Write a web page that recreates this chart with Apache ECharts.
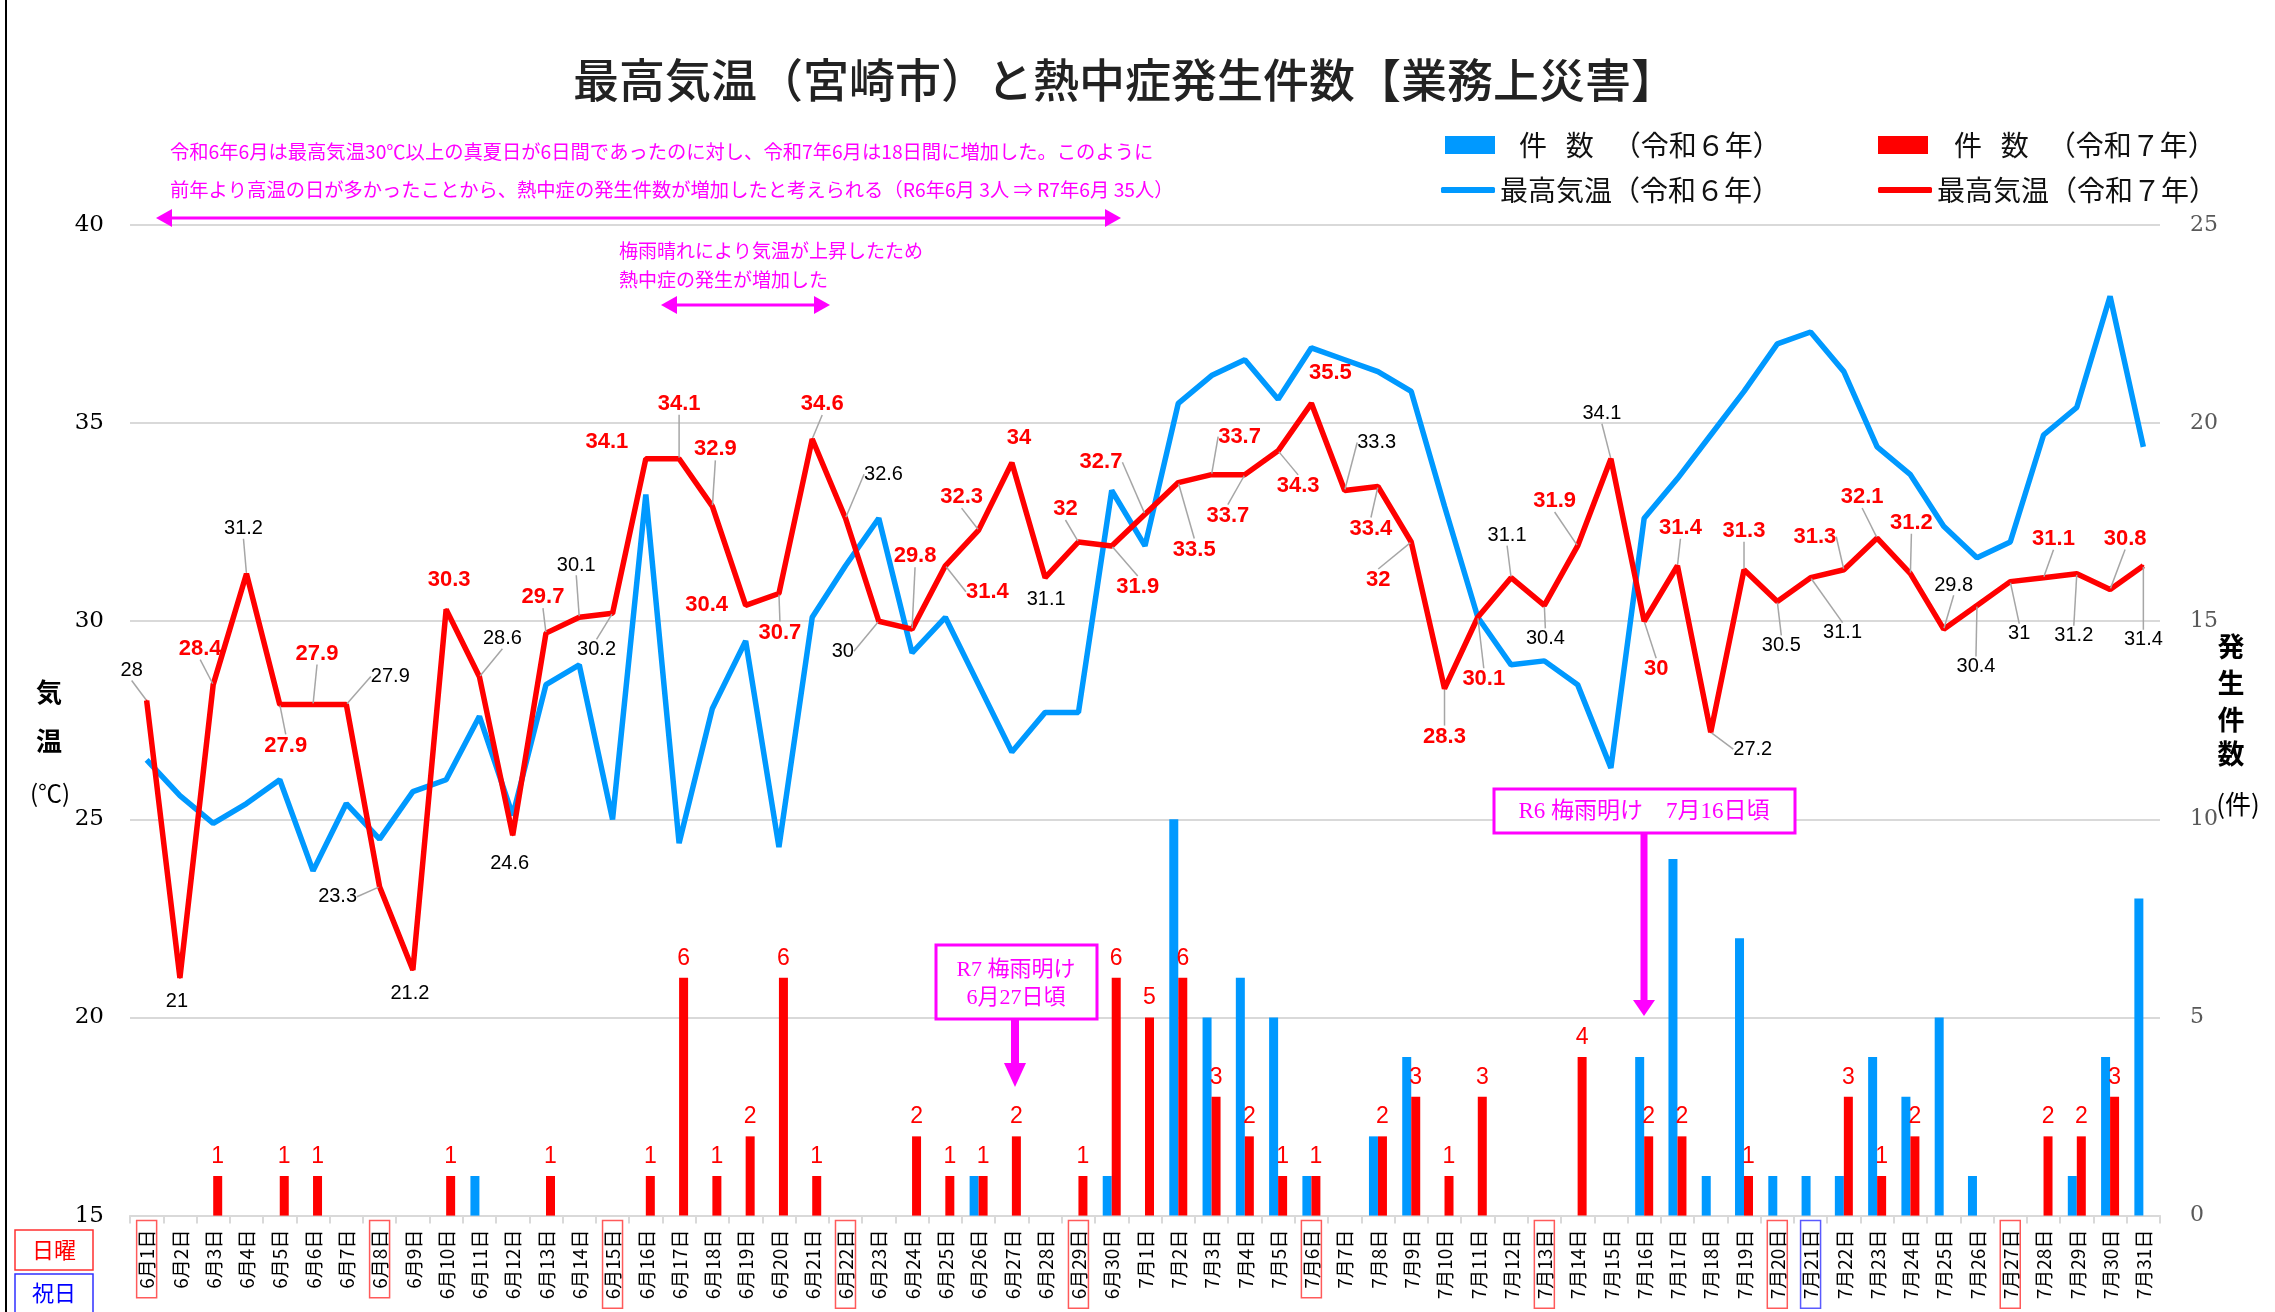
<!DOCTYPE html>
<html><head><meta charset="utf-8">
<script src="https://cdn.jsdelivr.net/npm/echarts@6/dist/echarts.min.js"></script>
<style>html,body{margin:0;padding:0;background:#fff}#c{width:2275px;height:1312px}</style>
</head><body><div id="c"></div>
<script>
const categories = ['6月1日','6月2日','6月3日','6月4日','6月5日','6月6日','6月7日','6月8日','6月9日','6月10日',
 '6月11日','6月12日','6月13日','6月14日','6月15日','6月16日','6月17日','6月18日','6月19日','6月20日',
 '6月21日','6月22日','6月23日','6月24日','6月25日','6月26日','6月27日','6月28日','6月29日','6月30日',
 '7月1日','7月2日','7月3日','7月4日','7月5日','7月6日','7月7日','7月8日','7月9日','7月10日',
 '7月11日','7月12日','7月13日','7月14日','7月15日','7月16日','7月17日','7月18日','7月19日','7月20日',
 '7月21日','7月22日','7月23日','7月24日','7月25日','7月26日','7月27日','7月28日','7月29日','7月30日','7月31日'];
const sundays = ['6月1日','6月8日','6月15日','6月22日','6月29日','7月6日','7月13日','7月20日','7月27日'];
const holidays = ['7月21日'];

// 件数（令和6年）
const r6Count = [0,0,0,0,0,0,0,0,0,0, 1,0,0,0,0,0,0,0,0,0, 0,0,0,0,0,1,0,0,0,1,
                 0,10,5,6,5,1,0,2,4,0, 0,0,0,0,0,4,9,1,7,1, 1,1,4,3,5,1,0,0,1,4, 8];
// 件数（令和7年）
const r7Count = [0,0,1,0,1,1,0,0,0,1, 0,0,1,0,0,1,6,1,2,6, 1,0,0,2,1,1,2,0,1,6,
                 5,6,3,2,1,1,0,2,3,1, 3,0,0,4,0,2,2,0,1,0, 0,3,1,2,0,0,0,2,2,3, 0];
// 最高気温（令和6年）
const r6Temp = [26.5,25.6,24.9,25.4,26.0,23.7,25.4,24.5,25.7,26.0, 27.6,25.1,28.4,28.9,25.0,33.2,24.4,27.8,29.5,24.3,
                30.1,31.4,32.6,29.2,30.1,28.4,26.7,27.7,27.7,33.3, 31.9,35.5,36.2,36.6,35.6,36.9,36.6,36.3,35.8,32.9,
                30.1,28.9,29.0,28.4,26.3,32.6,33.6,34.7,35.8,37.0, 37.3,36.3,34.4,33.7,32.4,31.6,32.0,34.7,35.4,38.2, 34.4];
// 最高気温（令和7年）
const r7Temp = [28,21,28.4,31.2,27.9,27.9,27.9,23.3,21.2,30.3, 28.6,24.6,29.7,30.1,30.2,34.1,34.1,32.9,30.4,30.7,
                34.6,32.6,30,29.8,31.4,32.3,34,31.1,32,31.9, 32.7,33.5,33.7,33.7,34.3,35.5,33.3,33.4,32,28.3,
                30.1,31.1,30.4,31.9,34.1,30,31.4,27.2,31.3,30.5, 31.1,31.3,32.1,31.2,29.8,30.4,31,31.1,31.2,30.8, 31.4];

const tempAxis = {min: 15, max: 40, interval: 5};
const countAxis = {min: 0, max: 25, interval: 5};

// label placement for the R7 temperature labels: [dx, dy, style, leader line]
const r7LabelPlace = [
 [-15,-30,'k',1],[-3,24,'k',0],[-13,-36,'r',1],[-3,-45,'k',1],[6,41,'r',1],[4,-51,'r',1],[44,-28,'k',1],[-42,10,'k',1],[-3,24,'k',0],[3,-29,'r',0],
 [23,-38,'k',1],[-3,28,'k',0],[-3,-36,'r',1],[-3,-52,'k',1],[-16,36,'k',1],[-39,-17,'r',0],[0,-55,'r',1],[3,-57,'r',1],[-39,0,'r',0],[1,39,'r',1],
 [10,-35,'r',1],[38,-44,'k',1],[-36,30,'k',1],[3,-73,'r',1],[42,26,'r',1],[-17,-33,'r',1],[7,-25,'r',0],[1,22,'k',0],[-13,-33,'r',1],[26,41,'r',1],
 [-44,-52,'r',1],[16,67,'r',1],[28,-38,'r',1],[-17,41,'r',1],[20,35,'r',1],[19,-30,'r',0],[32,-48,'k',1],[-7,42,'r',1],[-33,38,'r',1],[0,48,'r',1],
 [6,62,'r',1],[-4,-42,'k',1],[1,33,'k',1],[-23,-45,'r',1],[-9,-45,'k',1],[12,48,'r',1],[3,-38,'r',1],[42,17,'k',1],[0,-39,'r',1],[4,44,'k',1],
 [32,55,'k',1],[-29,-33,'r',1],[-15,-41,'r',1],[1,-51,'r',1],[10,-44,'k',1],[-1,61,'k',1],[9,52,'k',1],[10,-39,'r',1],[-3,62,'k',1],[15,-51,'r',1],
 [0,74,'k',1]
];

const N_R6C = '件   数   （令和６年）';
const N_R7C = '件   数   （令和７年）';
const N_R6T = '最高気温（令和６年）';
const N_R7T = '最高気温（令和７年）';

const CJK = '"Noto Sans CJK JP", "Noto Sans", sans-serif';
const SERIF = '"DejaVu Serif", "Liberation Serif", serif';
const MAG = '#FF00FF';
const BLUE = '#0099FF';
const RED = '#FF0000';

const labelStyles = {
  r: {color: RED, fontWeight: 'bold', fontSize: 22, fontFamily: '"Liberation Sans", Arial, sans-serif'},
  k: {color: '#000', fontWeight: 'normal', fontSize: 20, fontFamily: '"Liberation Sans", Arial, sans-serif'}
};

const r7Data = r7Temp.map((v, i) => ({
  value: v,
  label: labelStyles[r7LabelPlace[i][2]],
  labelLine: {show: !!r7LabelPlace[i][3]}
}));

function arrowH(x1, x2, y) {
  return [
    {type: 'line', shape: {x1: x1 + 10, y1: y, x2: x2 - 10, y2: y}, style: {stroke: MAG, lineWidth: 3}, z: 100},
    {type: 'polygon', shape: {points: [[x1, y], [x1 + 16, y - 9], [x1 + 16, y + 9]]}, style: {fill: MAG}, z: 100},
    {type: 'polygon', shape: {points: [[x2, y], [x2 - 16, y - 9], [x2 - 16, y + 9]]}, style: {fill: MAG}, z: 100}
  ];
}
function arrowV(x, y1, y2, w, hw, hh) {
  return [
    {type: 'rect', shape: {x: x - w / 2, y: y1, width: w, height: y2 - y1 - hh}, style: {fill: MAG}, z: 100},
    {type: 'polygon', shape: {points: [[x - hw, y2 - hh], [x + hw, y2 - hh], [x, y2]]}, style: {fill: MAG}, z: 100}
  ];
}
function txt(text, x, y, font, fill, align) {
  return {type: 'text', z: 100, style: {text: text, x: x, y: y, font: font, fill: fill, align: align || 'left', verticalAlign: 'middle'}};
}

const graphics = [].concat(
  [{type: 'line', shape: {x1: 6, y1: 0, x2: 6, y2: 1312}, style: {stroke: '#000', lineWidth: 2}, z: 100}],
  [txt('最高気温（宮崎市）と熱中症発生件数【業務上災害】', 1125, 80, '500 46px ' + CJK, '#222', 'center')],
  [txt('令和6年6月は最高気温30℃以上の真夏日が6日間であったのに対し、令和7年6月は18日間に増加した。このように', 170, 152, '19.3px ' + CJK, MAG),
   txt('前年より高温の日が多かったことから、熱中症の発生件数が増加したと考えられる（R6年6月 3人 ⇒ R7年6月 35人）', 170, 190, '19.3px ' + CJK, MAG)],
  arrowH(156, 1121, 218),
  [txt('梅雨晴れにより気温が上昇したため', 619, 251, '19px ' + CJK, MAG),
   txt('熱中症の発生が増加した', 619, 280, '19px ' + CJK, MAG)],
  arrowH(661, 830, 305),
  [{type: 'rect', shape: {x: 936, y: 945, width: 161, height: 74}, style: {fill: '#fff', stroke: MAG, lineWidth: 3}, z: 99},
   txt('R7 梅雨明け', 1016, 970, '22px "Liberation Serif", ' + CJK, MAG, 'center'),
   txt('6月27日頃', 1016, 998, '22px "Liberation Serif", ' + CJK, MAG, 'center')],
  arrowV(1015, 1020, 1087, 8, 11, 24),
  [{type: 'rect', shape: {x: 1494, y: 789, width: 301, height: 44}, style: {fill: '#fff', stroke: MAG, lineWidth: 3}, z: 99},
   txt('R6 梅雨明け　7月16日頃', 1644, 812, '23px "Liberation Serif", ' + CJK, MAG, 'center')],
  arrowV(1644, 834, 1016, 7, 11, 16),
  [txt('気', 49, 692, 'bold 26px ' + CJK, '#000', 'center'),
   txt('温', 49, 741, 'bold 26px ' + CJK, '#000', 'center'),
   txt('(℃)', 50, 793, '24px ' + CJK, '#000', 'center'),
   txt('発', 2231, 647, 'bold 27px ' + CJK, '#000', 'center'),
   txt('生', 2231, 683, 'bold 27px ' + CJK, '#000', 'center'),
   txt('件', 2231, 720, 'bold 27px ' + CJK, '#000', 'center'),
   txt('数', 2231, 754, 'bold 27px ' + CJK, '#000', 'center'),
   txt('(件)', 2238, 804, '26px ' + CJK, '#000', 'center')],
  [{type: 'rect', shape: {x: 15, y: 1230, width: 78, height: 40}, style: {fill: '#fff', stroke: '#FF3030', lineWidth: 1.5}, z: 99},
   txt('日曜', 54, 1250, '22px ' + CJK, RED, 'center'),
   {type: 'rect', shape: {x: 15, y: 1274, width: 78, height: 40}, style: {fill: '#fff', stroke: '#3030FF', lineWidth: 1.5}, z: 99},
   txt('祝日', 54, 1293, '22px ' + CJK, '#0000FF', 'center')]
);

const legendText = {fontSize: 28, fontFamily: CJK, color: '#111'};

const chart = echarts.init(document.getElementById('c'), null, {renderer: 'canvas'});
chart.setOption({
  animation: false,
  backgroundColor: '#fff',
  grid: {left: 130, right: 115, top: 225, bottom: 96, containLabel: false},
  legend: [
    {data: [N_R6C], left: 1440, top: 126, icon: 'rect', itemWidth: 50, itemHeight: 18, selectedMode: false, textStyle: Object.assign({padding: [0, 0, 0, 19]}, legendText)},
    {data: [N_R7C], left: 1873, top: 126, icon: 'rect', itemWidth: 50, itemHeight: 18, selectedMode: false, textStyle: Object.assign({padding: [0, 0, 0, 21]}, legendText)},
    {data: [N_R6T], left: 1436, top: 171, icon: 'roundRect', itemWidth: 54, itemHeight: 6, selectedMode: false, textStyle: legendText},
    {data: [N_R7T], left: 1873, top: 171, icon: 'roundRect', itemWidth: 54, itemHeight: 6, selectedMode: false, textStyle: legendText}
  ],
  xAxis: {
    type: 'category', data: categories, boundaryGap: true,
    axisLine: {lineStyle: {color: '#D9D9D9', width: 2}},
    axisTick: {show: true, length: 8, lineStyle: {color: '#D9D9D9', width: 2}},
    axisLabel: {
      interval: 0, rotate: 90, margin: 5, fontSize: 19, fontFamily: CJK, color: '#000',
      formatter: v => sundays.includes(v) ? '{s|' + v + '}' : (holidays.includes(v) ? '{h|' + v + '}' : '{n|' + v + '}'),
      rich: {
        s: {fontSize: 19, fontFamily: CJK, color: '#000', borderColor: '#FF5A5A', borderWidth: 1.5, padding: [1, 9, 0, 9]},
        h: {fontSize: 19, fontFamily: CJK, color: '#000', borderColor: '#5A5AFF', borderWidth: 1.5, padding: [1, 9, 0, 9]},
        n: {fontSize: 19, fontFamily: CJK, color: '#000', padding: [1, 9, 0, 9]}
      }
    }
  },
  yAxis: [
    {type: 'value', min: tempAxis.min, max: tempAxis.max, interval: tempAxis.interval, position: 'left',
     axisLine: {show: false}, axisTick: {show: false},
     splitLine: {lineStyle: {color: '#D9D9D9', width: 2}},
     axisLabel: {fontFamily: SERIF, fontSize: 23, color: '#000', margin: 26}},
    {type: 'value', min: countAxis.min, max: countAxis.max, interval: countAxis.interval, position: 'right',
     axisLine: {show: false}, axisTick: {show: false}, splitLine: {show: false},
     axisLabel: {fontFamily: SERIF, fontSize: 22, color: '#595959', margin: 30}}
  ],
  series: [
    {name: N_R6C, type: 'bar', yAxisIndex: 1, data: r6Count, barWidth: 9, barGap: '0%',
     itemStyle: {color: BLUE}, silent: true},
    {name: N_R7C, type: 'bar', yAxisIndex: 1, data: r7Count, barWidth: 9, barGap: '0%',
     itemStyle: {color: RED}, silent: true,
     label: {show: true, position: 'top', distance: 8, color: RED, fontSize: 23,
             fontFamily: '"Liberation Sans", Arial, sans-serif',
             formatter: p => p.value ? String(p.value) : ''}},
    {name: N_R6T, type: 'line', yAxisIndex: 0, data: r6Temp, showSymbol: false, z: 3,
     color: BLUE, lineStyle: {color: BLUE, width: 5.5}, itemStyle: {color: BLUE}, silent: true},
    {name: N_R7T, type: 'line', yAxisIndex: 0, data: r7Data, z: 4,
     symbol: 'circle', symbolSize: 2, showSymbol: true, showAllSymbol: true,
     color: RED, lineStyle: {color: RED, width: 5.5}, itemStyle: {color: RED}, silent: true,
     label: {show: true, position: 'inside', formatter: '{c}'},
     labelLine: {show: true, lineStyle: {color: '#A6A6A6', width: 1.5}},
     labelLayout: p => ({dx: r7LabelPlace[p.dataIndex][0], dy: r7LabelPlace[p.dataIndex][1]})}
  ],
  graphic: graphics
});
</script></body></html>
